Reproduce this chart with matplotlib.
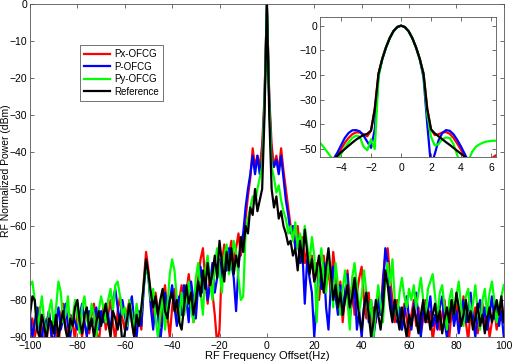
import numpy as np
import matplotlib
matplotlib.use("Agg")
import matplotlib.pyplot as plt

plt.rcParams['font.family'] = ['Liberation Sans', 'DejaVu Sans']

# main spectrum, 1 Hz step from -100 to 100 Hz
freq = np.arange(-100, 101)

px_ofcg = [
    -88, -85, -90, -87, -82, -89, -92, -86, -83, -90,
    -85, -88, -93, -84, -81, -87, -90, -84, -86, -91,
    -82, -87, -90, -85, -83, -89, -84, -81, -88, -92,
    -85, -82, -88, -84, -80, -86, -91, -83, -79, -85,
    -88, -83, -80, -86, -90, -82, -85, -88, -75, -67,
    -72, -80, -85, -78, -83, -87, -80, -76, -84, -90,
    -82, -77, -85, -80, -76, -84, -78, -73, -79, -86,
    -80, -74, -69, -66, -75, -81, -73, -78, -84, -92,
    -88, -70, -65, -72, -68, -64, -70, -66, -62, -68,
    -64, -58, -52, -47, -39, -44, -41, -44, -38, -25,
    0,
    -25, -38, -44, -41, -45, -39, -45, -50, -55, -60,
    -62, -65, -60, -67, -63, -70, -66, -72, -68, -75,
    -70, -80, -74, -68, -76, -72, -78, -67, -73, -82,
    -75, -86, -79, -72, -80, -76, -84, -78, -74, -71,
    -80, -85, -78, -88, -82, -86, -79, -84, -74, -68,
    -66, -74, -80, -86, -80, -84, -88, -81, -85, -90,
    -84, -80, -87, -82, -89, -85, -80, -86, -83, -91,
    -86, -82, -88, -84, -80, -87, -90, -83, -86, -81,
    -88, -84, -79, -86, -91, -83, -87, -82, -89, -85,
    -81, -87, -84, -90, -86, -82, -88, -84, -80, -86,
]

p_ofcg = [
    -84, -90, -86, -82, -88, -91, -85, -87, -83, -89,
    -92, -86, -82, -88, -85, -81, -87, -90, -84, -86,
    -88, -84, -81, -86, -90, -83, -87, -85, -82, -88,
    -83, -86, -81, -84, -89, -80, -77, -82, -86, -80,
    -84, -88, -82, -79, -86, -90, -83, -87, -77, -70,
    -74, -82, -88, -80, -84, -91, -85, -78, -83, -80,
    -76, -82, -87, -79, -84, -76, -80, -86, -75, -80,
    -85, -76, -71, -78, -73, -80, -76, -70, -78, -74,
    -69, -75, -68, -72, -66, -70, -74, -83, -71, -65,
    -62, -55, -50, -46, -41, -46, -41, -46, -42, -26,
    0,
    -26, -42, -44, -42, -46, -41, -47, -53, -57, -62,
    -60, -66, -63, -70, -67, -81, -69, -74, -78, -90,
    -80, -72, -77, -70, -82, -88, -76, -71, -79, -84,
    -76, -82, -78, -73, -85, -80, -76, -88, -83, -90,
    -82, -78, -86, -80, -90, -85, -80, -84, -76, -66,
    -70, -78, -84, -80, -86, -82, -88, -84, -79, -85,
    -88, -82, -78, -85, -90, -81, -86, -83, -79, -87,
    -84, -88, -82, -79, -86, -90, -84, -80, -87, -83,
    -89, -85, -80, -86, -82, -78, -85, -90, -83, -80,
    -86, -82, -88, -84, -79, -85, -81, -87, -83, -90,
]

py_ofcg = [
    -76, -75, -80, -88, -84, -79, -86, -90, -83, -80,
    -87, -82, -75, -78, -86, -84, -79, -88, -85, -80,
    -84, -89, -82, -79, -85, -88, -81, -84, -90, -83,
    -79, -82, -86, -80, -77, -83, -76, -75, -79, -84,
    -82, -87, -80, -84, -88, -81, -86, -83, -76, -70,
    -74, -80, -77, -85, -90, -84, -79, -88, -82, -73,
    -69, -72, -80, -86, -78, -84, -80, -75, -82, -86,
    -74, -70, -78, -84, -72, -68, -75, -80, -70, -66,
    -72, -78, -68, -65, -73, -70, -64, -67, -74, -80,
    -79, -62, -58, -55, -52, -54, -50, -47, -44, -27,
    0,
    -27, -44, -47, -51, -49, -53, -56, -58, -62, -60,
    -64, -59, -66, -62, -67, -60, -65, -70, -63, -68,
    -86, -72, -66, -74, -78, -69, -75, -82, -70, -76,
    -84, -77, -72, -80, -88, -74, -70, -76, -83, -79,
    -72, -78, -85, -80, -90, -82, -76, -81, -86, -74,
    -70, -76, -69, -80, -85, -78, -74, -79, -82, -77,
    -80, -76, -82, -78, -74, -80, -84, -77, -75, -73,
    -79, -85, -78, -76, -82, -88, -80, -77, -84, -79,
    -75, -82, -87, -79, -77, -85, -81, -76, -83, -88,
    -80, -77, -84, -78, -75, -80, -86, -82, -79, -76,
]

reference = [
    -84, -79, -80, -88, -90, -84, -87, -91, -85, -86,
    -89, -84, -90, -86, -83, -88, -91, -85, -87, -82,
    -80, -86, -89, -84, -82, -88, -85, -90, -86, -83,
    -87, -84, -81, -86, -90, -83, -85, -88, -84, -92,
    -89, -85, -81, -86, -90, -84, -87, -82, -76, -69,
    -73, -78, -82, -79, -84, -80, -77, -83, -85, -80,
    -78, -83, -80, -86, -88, -82, -76, -81, -78, -84,
    -80, -75, -79, -72, -77, -70, -76, -73, -68, -74,
    -64, -70, -75, -67, -72, -66, -73, -68, -71, -63,
    -67, -60, -62, -55, -57, -50, -56, -53, -50, -30,
    0,
    -30, -50, -55, -52, -58, -56, -60, -62, -65, -64,
    -68, -66, -72, -64, -70, -61, -67, -73, -69, -75,
    -72, -68, -74, -78, -71, -66, -73, -80, -76, -82,
    -78, -84, -80, -76, -82, -79, -74, -79, -85, -88,
    -82, -78, -84, -90, -86, -80, -84, -88, -82, -72,
    -76, -82, -86, -80, -84, -88, -82, -86, -90, -84,
    -87, -82, -85, -89, -84, -80, -86, -83, -88, -84,
    -81, -86, -83, -89, -85, -82, -86, -80, -84, -78,
    -82, -87, -84, -80, -86, -83, -88, -85, -81, -87,
    -84, -89, -85, -82, -86, -83, -80, -84, -79, -86,
]

# zoomed centre, 0.25 Hz step from -5.5 to 6.5 Hz
freq_zoom = np.arange(-5.5, 6.51, 0.25)

px_zoom = [
    -62, -60, -58.5, -57, -55, -52.8, -50, -47.5, -45.5, -44, -43.2, -43.3,
    -44, -44.8, -42.5, -33.5, -19.3, -13.4, -8.7, -5, -2.2, -0.55,
    0,
    -0.55, -2.2, -5, -8.7, -13.4, -19.3, -33.5, -42, -44.3, -44, -43.3,
    -43.1, -43.8, -45.5, -47.8, -50.3, -53, -56, -58.5, -60, -59, -57.5,
    -55.5, -54, -52.8, -52,
]

p_zoom = [
    -64, -61, -58.5, -56, -54, -51.5, -48.5, -45.5, -43.5, -42.4, -42.3, -42.8,
    -44.5, -47, -49.5, -42, -20, -13.5, -8.8, -5, -2.2, -0.55,
    0,
    -0.55, -2.2, -5, -8.8, -13.6, -21, -40, -57, -52, -46.5, -43.5,
    -42.3, -42.6, -44, -46.3, -49, -52, -55, -58, -61, -62, -61,
    -60, -59, -59, -59,
]

py_zoom = [
    -46.8, -48.5, -50.5, -52.5, -54.5, -54, -52, -49.5, -47.3, -45.5, -44.5, -45,
    -49, -50.5, -46, -50, -21, -13.5, -8.8, -5, -2.2, -0.55,
    0,
    -0.55, -2.2, -5, -8.8, -13.5, -20, -36, -45, -48.5, -48, -46,
    -45.3, -45.5, -48, -52.5, -57, -58, -54.5, -51, -49, -48, -47.3,
    -46.9, -46.7, -46.6, -46.7,
]

ref_zoom = [
    -60, -59, -57.5, -56, -54.5, -52.8, -51.3, -50, -48.7, -47.4, -46.2, -45.2,
    -44.3, -43.8, -42.5, -34, -19.5, -13.5, -8.8, -5, -2.2, -0.55,
    0,
    -0.55, -2.2, -5, -8.8, -13.5, -19.5, -34, -42, -43.6, -44.8, -46,
    -47.2, -48.3, -49.5, -50.7, -51.9, -53.1, -54.5, -56, -57.5, -59, -60,
    -61, -62, -62, -62,
]

names = ['Px-OFCG', 'P-OFCG', 'Py-OFCG', 'Reference']
colors = ['#ff0000', '#0000ff', '#00ff00', '#000000']
main_data = [px_ofcg, p_ofcg, py_ofcg, reference]
zoom_data = [px_zoom, p_zoom, py_zoom, ref_zoom]

fig = plt.figure(figsize=(5.13, 3.62), dpi=100)
ax = fig.add_axes([0.0585, 0.069, 0.9235, 0.92])

for y, c, n in zip(main_data, colors, names):
    ax.plot(freq, y, color=c, lw=1.6, label=n)

ax.set_xlim(-100, 100)
ax.set_ylim(-90, 0)
ax.set_xticks(np.arange(-100, 101, 20))
ax.set_yticks(np.arange(-90, 1, 10))
ax.tick_params(direction='in', top=True, right=True, labelsize=7.5, length=3,
               width=0.6, color='#555555', pad=2)
ax.tick_params(axis='x', pad=3)
for s in ax.spines.values():
    s.set_color('#555555')
    s.set_linewidth(0.6)
ax.set_xlabel('RF Frequency Offset(Hz)', fontsize=8, labelpad=0)
ax.set_ylabel('RF Normalized Power (dBm)', fontsize=7.5)
ax.yaxis.set_label_coords(-0.041, 0.5)

leg = ax.legend(loc='upper left', bbox_to_anchor=(0.096, 0.89), fontsize=7,
                frameon=True, fancybox=False, handlelength=2.6,
                handletextpad=0.5, borderpad=0.4, labelspacing=0.25)
leg.get_frame().set_edgecolor('#333333')
leg.get_frame().set_linewidth(0.6)

ins = fig.add_axes([0.6238, 0.5663, 0.343, 0.3867])
for y, c in zip(zoom_data, colors):
    ins.plot(freq_zoom, y, color=c, lw=1.6)
ins.set_xlim(-5.4, 6.33)
ins.set_ylim(-53.2, 3.5)
ins.set_xticks([-4, -2, 0, 2, 4, 6])
ins.set_yticks([0, -10, -20, -30, -40, -50])
ins.tick_params(direction='in', top=True, right=True, labelsize=7.5, length=3,
                width=0.6, color='#555555', pad=2)
ins.tick_params(axis='x', pad=4)
for s in ins.spines.values():
    s.set_color('#555555')
    s.set_linewidth(0.6)

fig.savefig('out.png', dpi=100)
